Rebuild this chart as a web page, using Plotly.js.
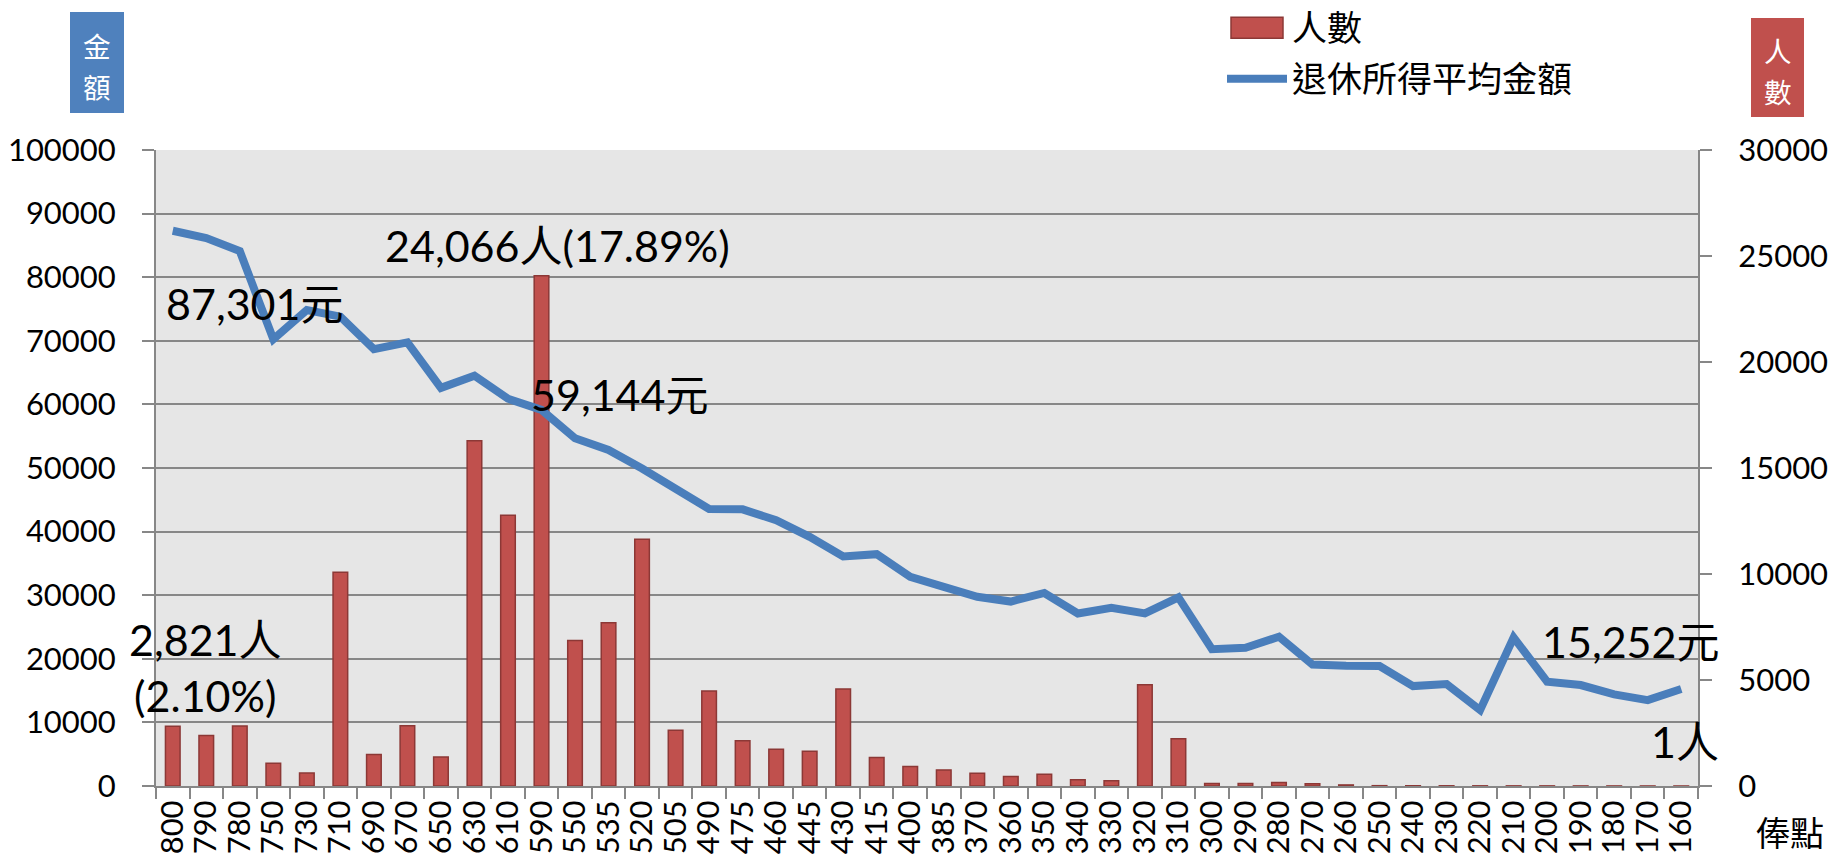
<!DOCTYPE html>
<html>
<head>
<meta charset="utf-8">
<script src="https://cdn.plot.ly/plotly-3.0.1.min.js"></script>
<style>html,body{margin:0;padding:0;background:#fff;}#chart{width:1831px;height:857px;}</style>
</head>
<body>
<div id="chart"></div>
<script>
// 俸點 categories
const points = ['800','790','780','750','730','710','690','670','650','630','610','590','550','535','520','505','490','475','460','445','430','415','400','385','370','360','350','340','330','320','310','300','290','280','270','260','250','240','230','220','210','200','190','180','170','160'];
// 人數 (right axis)
const people = [2821,2380,2830,1070,610,10080,1480,2840,1370,16280,12770,24066,6860,7700,11640,2630,4480,2140,1730,1640,4580,1340,920,760,600,450,550,290,250,4780,2230,120,120,170,110,50,15,12,10,8,6,5,4,3,2,1];
// 退休所得平均金額 (left axis)
const amount = [87301,86160,84100,70260,74840,73790,68680,69740,62600,64500,60900,59144,54680,52840,49910,46770,43550,43500,41790,39170,36100,36450,32890,31320,29750,29000,30350,27130,28000,27130,29660,21500,21740,23470,19110,18900,18850,15710,16030,11940,23360,16390,15870,14400,13510,15252];
const seriesNames = ['人數','退休所得平均金額'];
const labelTexts = ['24,066人(17.89%)','87,301元','59,144元','2,821人<br>(2.10%)','15,252元','1人'];
const leftTitle = ['金','額'];
const rightTitle = ['人','數'];

const FONT = "Lato, 'Noto Sans CJK TC', sans-serif";
const CJK = "'Noto Sans CJK TC', sans-serif";
const L = 156, R = 133, T = 150, B = 71, FW = 1831, FH = 857;
const PW = FW - L - R, PH = FH - T - B;
const fx = px => (px - L) / PW;
const fy = py => (FH - B - py) / PH;
const grid = '#878787';

const traces = [
  {type:'bar', name:seriesNames[0], x:points, y:people, yaxis:'y', legend:'legend',
   marker:{color:'#C0504D', line:{color:'#8C3836', width:1.5}}},
  {type:'scatter', mode:'lines', name:seriesNames[1], x:points, y:amount, yaxis:'y2', legend:'legend2',
   line:{color:'#4A7EBB', width:8}}
];

function ann(text, px, py, xa, size, extra){
  return Object.assign({text:text, xref:'paper', yref:'paper', x:fx(px), y:fy(py),
    xanchor:xa, yanchor:'middle', showarrow:false,
    font:{family:FONT, size:size, color:'#000'}}, extra||{});
}
const legendBase = {xanchor:'left', yanchor:'middle', orientation:'v',
  font:{family:CJK, size:35, color:'#000'}, bgcolor:'rgba(0,0,0,0)', itemwidth:60};

const titleFont = {family:CJK, size:27.6, color:'#fff'};

const layout = {
  width:FW, height:FH,
  margin:{l:L, r:R, t:T, b:B, pad:0, autoexpand:false},
  paper_bgcolor:'#ffffff', plot_bgcolor:'#E6E6E6',
  bargap:0.564,
  showlegend:true,
  legend:Object.assign({x:fx(1222), y:fy(28)}, legendBase),
  legend2:Object.assign({x:fx(1222), y:fy(79)}, legendBase),
  xaxis:{type:'category', showline:true, linecolor:grid, linewidth:2, ticks:'outside',
    tickson:'boundaries', ticklen:11, tickwidth:2, tickcolor:grid, tickangle:-90,
    tickmode:'array', tickvals:points, ticktext:points,
    showgrid:false, zeroline:false, tickfont:{family:FONT, size:31, color:'#000'}},
  yaxis:{side:'right', range:[0,30000], dtick:5000, tickformat:'d', showgrid:false, zeroline:false,
    showline:true, linecolor:grid, linewidth:2, ticks:'outside', ticklen:12, tickwidth:2,
    tickcolor:grid, ticklabelstandoff:20, tickfont:{family:FONT, size:31, color:'#000'}},
  yaxis2:{overlaying:'y', side:'left', range:[0,100000], dtick:10000, tickformat:'d', showgrid:true,
    gridcolor:grid, gridwidth:2, zeroline:false, showline:true, linecolor:grid, linewidth:2,
    ticks:'outside', ticklen:12, tickwidth:2, tickcolor:grid, ticklabelstandoff:20,
    tickfont:{family:FONT, size:31, color:'#000'}},
  shapes:[
    {type:'rect', xref:'paper', yref:'paper', x0:fx(70), x1:fx(124), y0:fy(113), y1:fy(12),
     fillcolor:'#4F81BD', line:{width:0}, layer:'above'},
    {type:'rect', xref:'paper', yref:'paper', x0:fx(1751), x1:fx(1804), y0:fy(117), y1:fy(18),
     fillcolor:'#C0504D', line:{width:0}, layer:'above'}
  ],
  annotations:[
    ann(labelTexts[0], 383, 245, 'left', 43),
    ann(labelTexts[1], 164, 303, 'left', 43),
    ann(labelTexts[2], 529, 394, 'left', 43),
    ann(labelTexts[3], 205, 667, 'center', 43, {align:'center'}),
    ann(labelTexts[4], 1540, 641, 'left', 43),
    ann(labelTexts[5], 1649, 741, 'left', 43),
    ann('俸點', 1790, 831, 'center', 34, {font:{family:CJK, size:34, color:'#000'}}),
    ann(leftTitle[0], 97, 45, 'center', 27.6, {font:titleFont}),
    ann(leftTitle[1], 97, 86, 'center', 27.6, {font:titleFont}),
    ann(rightTitle[0], 1777.5, 50, 'center', 27.6, {font:titleFont}),
    ann(rightTitle[1], 1777.5, 91, 'center', 27.6, {font:titleFont})
  ]
};

Plotly.newPlot('chart', traces, layout, {staticPlot:true}).then(function(gd){
  // widen legend symbols to match the reference look
  gd.querySelectorAll('.legend .traces').forEach(function(it){
    it.querySelectorAll('.legendpoints path').forEach(function(p){
      p.setAttribute('d', 'M-26,10.5H26V-10.5H-26Z');
    });
    it.querySelectorAll('.legendlines path').forEach(function(p){
      p.style.strokeLinecap = 'round';
    });
  });
});
</script>
</body>
</html>
